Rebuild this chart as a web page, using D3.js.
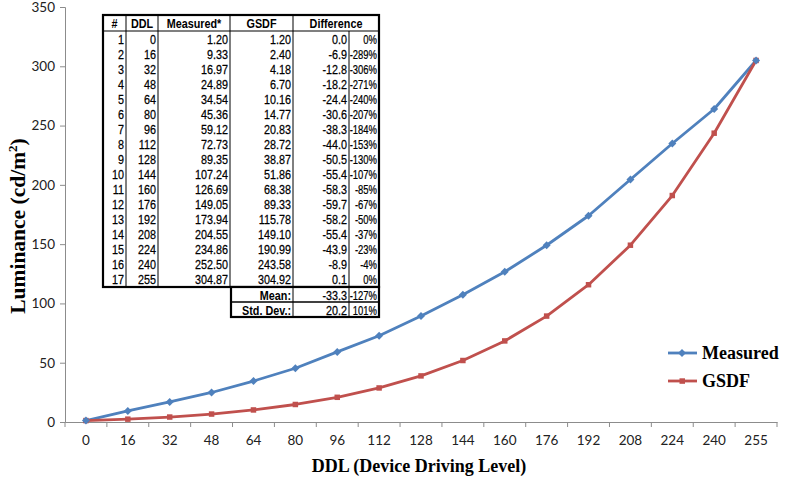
<!DOCTYPE html>
<html><head><meta charset="utf-8">
<script src="https://cdn.jsdelivr.net/npm/d3@7"></script>
<style>
body{margin:0;background:#fff;}
svg{display:block;}
</style></head>
<body>
<svg id="chart" width="787" height="477"></svg>
<script>
const categories = [0,16,32,48,64,80,96,112,128,144,160,176,192,208,224,240,255];
// plotted values (as drawn in the chart)
const measured = [1.20,9.33,16.97,24.89,34.54,45.36,59.12,72.73,89.35,107.24,126.69,149.05,173.94,204.55,234.86,264.0,304.87];
const gsdf = [1.20,2.40,4.18,6.70,10.16,14.77,20.83,28.72,38.87,51.86,68.38,89.33,115.78,149.10,190.99,243.58,304.92];
// table text (as printed in the inset table)
const tableMeasured = ["1.20","9.33","16.97","24.89","34.54","45.36","59.12","72.73","89.35","107.24","126.69","149.05","173.94","204.55","234.86","252.50","304.87"];
const tableGsdf = ["1.20","2.40","4.18","6.70","10.16","14.77","20.83","28.72","38.87","51.86","68.38","89.33","115.78","149.10","190.99","243.58","304.92"];
const diffValues = ["0.0","-6.9","-12.8","-18.2","-24.4","-30.6","-38.3","-44.0","-50.5","-55.4","-58.3","-59.7","-58.2","-55.4","-43.9","-8.9","0.1"];
const diffPercents = ["0%","-289%","-306%","-271%","-240%","-207%","-184%","-153%","-130%","-107%","-85%","-67%","-50%","-37%","-23%","-4%","0%"];
const tableHeaders = ["#","DDL","Measured*","GSDF","Difference"];
const summaryLabels = ["Mean:","Std. Dev.:"];
const summaryValues = ["-33.3","20.2"];
const summaryPercents = ["-127%","101%"];
const yTicks = [0,50,100,150,200,250,300,350];
const seriesNames = ["Measured","GSDF"];

const svg = d3.select("#chart");
const colors = ["#4F81BD","#C0504D"];
const x = d3.scaleBand().domain(categories.map(String)).range([65,777]);
const y = d3.scaleLinear().domain([0,350]).range([422,7]);
const axisColor = "#8c8c8c";
const tickFont = "Lato, 'Open Sans', sans-serif";
const serif = "'Liberation Serif','Times New Roman',serif";

// y axis
const yAxis = svg.append("g").attr("transform","translate(65,0)")
  .call(d3.axisLeft(y).tickValues(yTicks).tickSize(5).tickPadding(5).tickFormat(d3.format("d")));
yAxis.select(".domain").attr("stroke",axisColor);
yAxis.selectAll(".tick line").attr("stroke",axisColor);
yAxis.selectAll("text").attr("font-family",tickFont).attr("font-size",13.5).attr("fill","#222");

// x axis
const xAxis = svg.append("g").attr("transform","translate(0,422)")
  .call(d3.axisBottom(x).tickSize(0).tickPadding(13));
xAxis.select(".domain").attr("stroke",axisColor);
xAxis.selectAll("text").attr("font-family",tickFont).attr("font-size",13.5).attr("fill","#222");
const bounds = categories.map(c=>x(String(c))).concat([x.range()[1]]);
svg.append("g").selectAll("line").data(bounds).join("line")
  .attr("x1",d=>d).attr("x2",d=>d).attr("y1",422).attr("y2",427).attr("stroke",axisColor);

// axis titles
svg.append("text").attr("x",419).attr("y",472).attr("text-anchor","middle")
  .attr("font-family",serif).attr("font-weight","bold").attr("font-size",18)
  .text("DDL (Device Driving Level)");
const yt = svg.append("text").attr("transform","translate(25,226) rotate(-90)").attr("text-anchor","middle")
  .attr("font-family",serif).attr("font-weight","bold").attr("font-size",21.5);
yt.append("tspan").text("Luminance (cd/m");
yt.append("tspan").attr("font-size",13).attr("dy",-8).text("2");
yt.append("tspan").attr("dy",8).text(")");

// lines
const cx = (d,i)=>x(String(categories[i]))+x.bandwidth()/2;
const line = d3.line().x((d,i)=>cx(d,i)).y(d=>y(d));
[measured,gsdf].forEach((s,k)=>{
  svg.append("path").datum(s).attr("d",line).attr("fill","none").attr("stroke",colors[k]).attr("stroke-width",2.8).attr("stroke-linejoin","round");
});
svg.append("g").selectAll("path").data(gsdf).join("path")
  .attr("d",d3.symbol().type(d3.symbolSquare).size(30)())
  .attr("transform",(d,i)=>`translate(${cx(d,i)},${y(d)})`).attr("fill",colors[1]);
svg.append("g").selectAll("path").data(measured).join("path")
  .attr("d","M0,-4L4,0L0,4L-4,0Z")
  .attr("transform",(d,i)=>`translate(${cx(d,i)},${y(d)})`).attr("fill",colors[0]);

// legend
const lg = svg.append("g");
seriesNames.forEach((n,k)=>{
  const ly = 353 + k*28;
  lg.append("line").attr("x1",668).attr("x2",697).attr("y1",ly).attr("y2",ly).attr("stroke",colors[k]).attr("stroke-width",2.8);
  if(k===0) lg.append("path").attr("d","M0,-4L4,0L0,4L-4,0Z").attr("transform",`translate(682,${ly})`).attr("fill",colors[k]);
  else lg.append("rect").attr("x",679.5).attr("y",ly-2.7).attr("width",5.5).attr("height",5.5).attr("fill",colors[k]);
  lg.append("text").attr("x",702).attr("y",ly+6).attr("font-family",serif)
    .attr("font-weight","bold").attr("font-size",18).text(n);
});

// table
const tf = "'Liberation Sans',Arial,sans-serif";
const tb = svg.append("g");
const L=103, R=379, T=15, H=31, B=287;
const colX=[L,126,158,230,293,349,R];
const rowH=(B-H)/17;
function tText(px,py,txt,anchor,bold,sx){
  tb.append("text").attr("transform",`translate(${px},${py}) scale(${sx||0.8},1)`).attr("text-anchor",anchor)
    .attr("font-family",tf).attr("font-size",13.5).attr("font-weight",bold?"bold":"normal")
    .attr("fill","#000").attr("stroke","#000").attr("stroke-width",bold?0:0.25).text(txt);
}
tb.append("rect").attr("x",L).attr("y",T).attr("width",R-L).attr("height",B-T).attr("fill","#fff").attr("stroke","#000").attr("stroke-width",2.2);
tb.append("line").attr("x1",L).attr("x2",R).attr("y1",H).attr("y2",H).attr("stroke","#000").attr("stroke-width",1.2);
colX.slice(1,-1).forEach((v,i)=>{
  tb.append("line").attr("x1",v).attr("x2",v).attr("y1",i===4?H:T).attr("y2",B).attr("stroke","#000").attr("stroke-width",1);
});
const headerX=[114.5,142,194,261.5,336];
tableHeaders.forEach((h,i)=>tText(headerX[i],T+12.5,h,"middle",true));
const cols=[categories.map((c,i)=>String(i+1)),categories.map(String),tableMeasured,tableGsdf,diffValues,diffPercents];
cols.forEach((col,ci)=>{
  col.forEach((d,i)=>tText(colX[ci+1]-2,H+rowH*(i+0.5)+5,d,"end",false,ci===5?0.7:0.8));
});
// summary box
const sT=B;
tb.append("rect").attr("x",231).attr("y",sT).attr("width",R-231).attr("height",30).attr("fill","#fff").attr("stroke","#000").attr("stroke-width",2.2);
tb.append("line").attr("x1",231).attr("x2",R).attr("y1",sT+15).attr("y2",sT+15).attr("stroke","#000").attr("stroke-width",1.5);
[293,349].forEach(v=>tb.append("line").attr("x1",v).attr("x2",v).attr("y1",sT).attr("y2",sT+30).attr("stroke","#000"));
summaryLabels.forEach((s,i)=>{
  const yy=sT+15*i+12.5;
  tText(291,yy,s,"end",true);
  tText(347,yy,summaryValues[i],"end",false);
  tText(377,yy,summaryPercents[i],"end",false,0.7);
});
</script>
</body></html>
